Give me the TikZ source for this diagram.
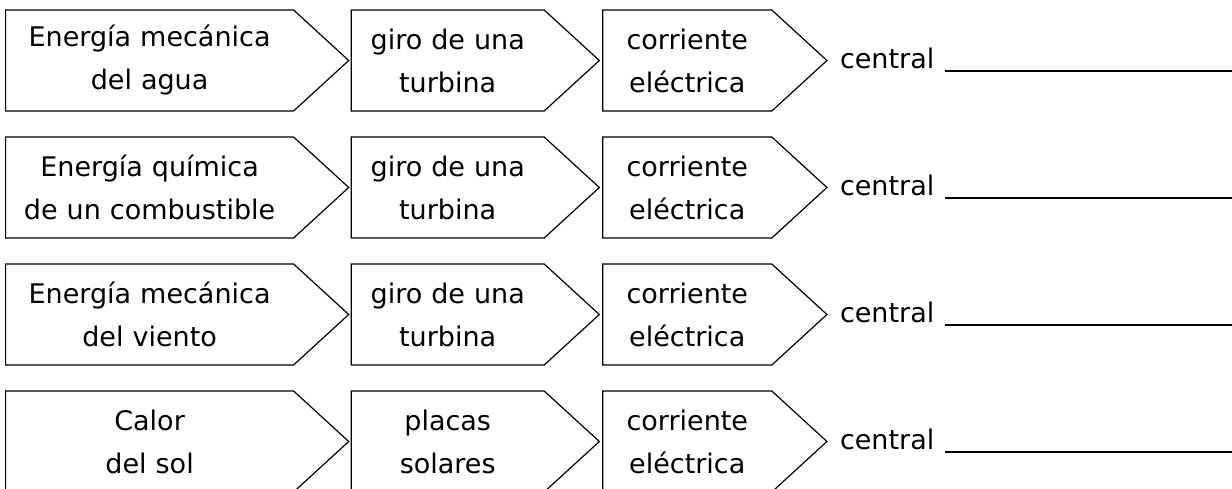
\documentclass[tikz,border=0pt]{standalone}
\usepackage{fontspec}
\setmainfont{DejaVu Sans}
\usetikzlibrary{shapes.symbols,positioning}

\begin{document}
\begin{tikzpicture}[x=1pt, y=1pt,
  every node/.style={align=center, font=\fontsize{27}{43}\selectfont},
  paso/.style={shape=signal, signal to=east, draw, line width=1.2pt,
    signal pointer angle=85, inner xsep=0pt, minimum height=101pt},
  raya/.style={line width=2pt}]
  \useasboundingbox (0,0) rectangle (1232,-488);
  \coordinate (borde) at (1232,0);
  \foreach \n/\origen/\medio in {
      0/{Energía mecánica\\del agua}/{giro de una\\turbina},
      1/{Energía química\\de un combustible}/{giro de una\\turbina},
      2/{Energía mecánica\\del viento}/{giro de una\\turbina},
      3/{Calor\\del sol}/{placas\\solares}} {
    \node[paso, text width=288pt, anchor=west] (o\n) at (5,-60.5-127*\n) {\origen};
    \node[paso, text width=193pt, right=1pt of o\n] (m\n) {\medio};
    \node[paso, text width=169pt, right=2pt of m\n] (e\n) {corriente\\eléctrica};
    \node[inner sep=0pt, right=12pt of e\n, yshift=2pt] (c\n) {central};
    \draw[raya] ([xshift=10pt,yshift=-2pt]c\n.base east) -- ([yshift=-2pt]c\n.base -| borde);
  }
\end{tikzpicture}
\end{document}
